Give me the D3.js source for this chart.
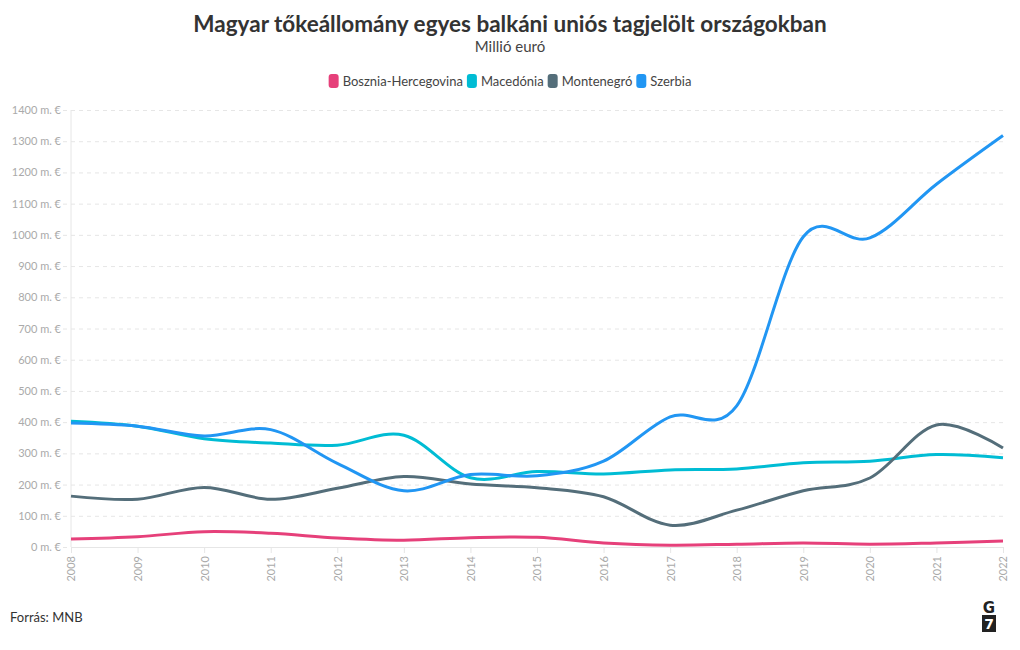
<!DOCTYPE html>
<html>
<head>
<meta charset="utf-8">
<script src="https://cdn.jsdelivr.net/npm/d3@7"></script>
<style>
  body { margin: 0; background: #fff; }
  svg { font-family: "Lato", "Open Sans", sans-serif; }
</style>
</head>
<body>
<script>
// chart data (million EUR)
var years = [2008, 2009, 2010, 2011, 2012, 2013, 2014, 2015, 2016, 2017, 2018, 2019, 2020, 2021, 2022];
var seriesNames = ["Bosznia-Hercegovina", "Macedónia", "Montenegró", "Szerbia"];
var bosnia = [26, 33, 49, 44, 29, 22, 30, 31, 13, 6, 9, 13, 9, 13, 19];
var macedonia = [403, 387, 347, 333, 326, 358, 222, 242, 234, 247, 250, 270, 275, 296, 286];
var montenegro = [163, 153, 191, 153, 188, 226, 202, 190, 161, 70, 118, 180, 221, 391, 317];
var serbia = [397, 387, 356, 376, 268, 180, 232, 228, 275, 417, 452, 994, 990, 1162, 1318];
var yTicks = [0, 100, 200, 300, 400, 500, 600, 700, 800, 900, 1000, 1100, 1200, 1300, 1400];
var colors = ["#e6407a", "#00bcd4", "#546e7a", "#2196f3"];

var width = 1020, height = 650;
var margin = { top: 110, right: 17, bottom: 103, left: 71 };

var svg = d3.select("body").append("svg")
  .attr("width", width)
  .attr("height", height);

var x = d3.scaleLinear().domain([2008, 2022]).range([margin.left, width - margin.right]);
var y = d3.scaleLinear().domain([0, 1400]).range([height - margin.bottom, margin.top]);

// title + subtitle
svg.append("text")
  .attr("x", width / 2).attr("y", 32)
  .attr("text-anchor", "middle")
  .attr("font-size", "22.5px").attr("font-weight", "bold")
  .attr("fill", "#333")
  .text("Magyar tőkeállomány egyes balkáni uniós tagjelölt országokban");

svg.append("text")
  .attr("x", width / 2).attr("y", 52)
  .attr("text-anchor", "middle")
  .attr("font-size", "15px")
  .attr("fill", "#444")
  .text("Millió euró");

// legend, centred
var legend = svg.append("g").attr("class", "legend");
var lx = 0;
seriesNames.forEach(function (name, i) {
  var item = legend.append("g").attr("transform", "translate(" + lx + ",0)");
  item.append("rect")
    .attr("x", 0).attr("y", -7)
    .attr("width", 10).attr("height", 14)
    .attr("rx", 3)
    .attr("fill", colors[i]);
  var t = item.append("text")
    .attr("x", 14).attr("y", 5)
    .attr("font-size", "13px")
    .attr("fill", "#444")
    .text(name);
  lx += 14 + t.node().getComputedTextLength() + 4;
});
legend.attr("transform", "translate(" + (width / 2 - (lx - 4) / 2) + ",81)");

// y grid + labels
var gY = svg.append("g")
  .attr("transform", "translate(" + margin.left + ",0)")
  .call(d3.axisLeft(y).tickValues(yTicks)
    .tickSize(-(width - margin.left - margin.right))
    .tickSizeOuter(0)
    .tickPadding(10)
    .tickFormat(function (d) { return d + " m. €"; }));
gY.select(".domain").remove();
gY.selectAll(".tick line")
  .attr("x1", -8)
  .attr("stroke", "#e6e6e6")
  .attr("stroke-dasharray", "4,4");
gY.selectAll(".tick text")
  .attr("fill", "#aaa")
  .attr("font-size", "11px")
  .attr("font-family", "Lato, sans-serif");

// left axis line
svg.append("line")
  .attr("x1", margin.left).attr("x2", margin.left)
  .attr("y1", margin.top).attr("y2", height - margin.bottom)
  .attr("stroke", "#e6e6e6");

// x axis
var gX = svg.append("g")
  .attr("transform", "translate(0," + (height - margin.bottom) + ")")
  .call(d3.axisBottom(x).tickValues(years).tickSize(6).tickFormat(d3.format("d")));
gX.select(".domain").attr("stroke", "#e6e6e6");
gX.selectAll(".tick line").attr("stroke", "#e6e6e6");
gX.selectAll(".tick text")
  .attr("fill", "#aaa")
  .attr("font-size", "11px")
  .attr("font-family", "Lato, sans-serif")
  .attr("text-anchor", "end")
  .attr("transform", "rotate(-90)")
  .attr("x", -9).attr("y", 0).attr("dy", "0.35em");

// lines (uniform catmull-rom spline)
var allSeries = [bosnia, macedonia, montenegro, serbia];
var line = d3.line()
  .x(function (d, i) { return x(years[i]); })
  .y(function (d) { return y(d); })
  .curve(d3.curveCardinal.tension(0));

svg.append("g").selectAll("path")
  .data(allSeries)
  .enter()
  .append("path")
  .attr("d", line)
  .attr("fill", "none")
  .attr("stroke", function (d, i) { return colors[i]; })
  .attr("stroke-width", 3)
  .attr("stroke-linejoin", "round");

// footer
svg.append("text")
  .attr("x", 10).attr("y", 622)
  .attr("font-size", "13px")
  .attr("fill", "#333")
  .text("Forrás: MNB");

// G7 logo
var logo = svg.append("g").attr("transform", "translate(989,0)");
logo.append("text")
  .attr("x", 0).attr("y", 613)
  .attr("text-anchor", "middle")
  .attr("font-size", "15px").attr("font-weight", "bold")
  .attr("font-family", "DejaVu Sans, sans-serif")
  .attr("fill", "#222")
  .text("G");
logo.append("rect")
  .attr("x", -7).attr("y", 615).attr("width", 14).attr("height", 17)
  .attr("fill", "#222");
logo.append("text")
  .attr("x", 0).attr("y", 629)
  .attr("text-anchor", "middle")
  .attr("font-size", "14px").attr("font-weight", "bold")
  .attr("font-family", "DejaVu Sans, sans-serif")
  .attr("fill", "#fff")
  .text("7");
</script>
</body>
</html>
